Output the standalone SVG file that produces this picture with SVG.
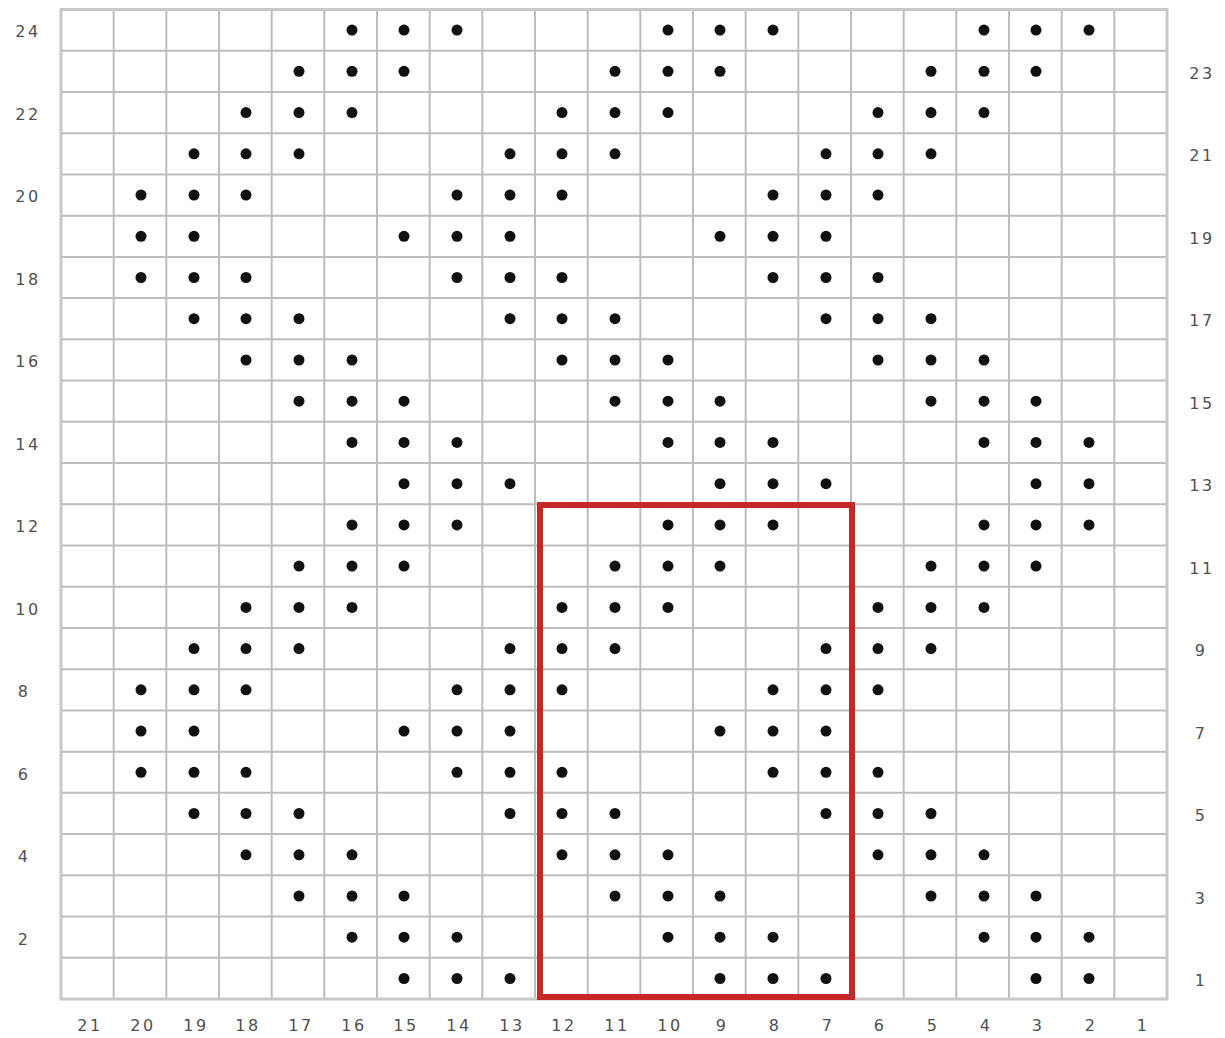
<svg xmlns="http://www.w3.org/2000/svg" xmlns:xlink="http://www.w3.org/1999/xlink" width="1225" height="1038" viewBox="0 0 1225 1038">
<style>
.grid{fill:none;stroke:#bdbdbd;stroke-width:2}
.border{fill:none;stroke:#c8c8c8;stroke-width:3}
.lbl{font-family:"DejaVu Sans","Liberation Sans",sans-serif;font-size:16px;letter-spacing:2.5px;fill:#505050;text-anchor:middle}
.hl{fill:none;stroke:#c62828;stroke-width:6}
</style>
<defs>
<circle id="d" cx="0" cy="0" r="5.5" fill="#111"/>
<g id="rA"><use href="#d" x="352"/><use href="#d" x="404"/><use href="#d" x="457"/><use href="#d" x="668"/><use href="#d" x="720"/><use href="#d" x="773"/><use href="#d" x="984"/><use href="#d" x="1036"/><use href="#d" x="1089"/></g>
<g id="rB"><use href="#d" x="299"/><use href="#d" x="352"/><use href="#d" x="404"/><use href="#d" x="615"/><use href="#d" x="668"/><use href="#d" x="720"/><use href="#d" x="931"/><use href="#d" x="984"/><use href="#d" x="1036"/></g>
<g id="rC"><use href="#d" x="246"/><use href="#d" x="299"/><use href="#d" x="352"/><use href="#d" x="562"/><use href="#d" x="615"/><use href="#d" x="668"/><use href="#d" x="878"/><use href="#d" x="931"/><use href="#d" x="984"/></g>
<g id="rD"><use href="#d" x="194"/><use href="#d" x="246"/><use href="#d" x="299"/><use href="#d" x="510"/><use href="#d" x="562"/><use href="#d" x="615"/><use href="#d" x="826"/><use href="#d" x="878"/><use href="#d" x="931"/></g>
<g id="rE"><use href="#d" x="141"/><use href="#d" x="194"/><use href="#d" x="246"/><use href="#d" x="457"/><use href="#d" x="510"/><use href="#d" x="562"/><use href="#d" x="773"/><use href="#d" x="826"/><use href="#d" x="878"/></g>
<g id="rF"><use href="#d" x="141"/><use href="#d" x="194"/><use href="#d" x="404"/><use href="#d" x="457"/><use href="#d" x="510"/><use href="#d" x="720"/><use href="#d" x="773"/><use href="#d" x="826"/></g>
<g id="rG"><use href="#d" x="404"/><use href="#d" x="457"/><use href="#d" x="510"/><use href="#d" x="720"/><use href="#d" x="773"/><use href="#d" x="826"/><use href="#d" x="1036"/><use href="#d" x="1089"/></g>
</defs>
<rect width="1225" height="1038" fill="#fff"/>
<g id="grid">
<path class="grid" d="M113.67 9.5V999M166.33 9.5V999M219 9.5V999M271.67 9.5V999M324.33 9.5V999M377 9.5V999M429.67 9.5V999M482.33 9.5V999M535 9.5V999M587.67 9.5V999M640.33 9.5V999M693 9.5V999M745.67 9.5V999M798.33 9.5V999M851 9.5V999M903.67 9.5V999M956.33 9.5V999M1009 9.5V999M1061.67 9.5V999M1114.33 9.5V999"/>
<path class="grid" d="M61 50.73H1167M61 91.96H1167M61 133.19H1167M61 174.42H1167M61 215.65H1167M61 256.88H1167M61 298.11H1167M61 339.34H1167M61 380.57H1167M61 421.8H1167M61 463.03H1167M61 504.26H1167M61 545.49H1167M61 586.72H1167M61 627.95H1167M61 669.18H1167M61 710.41H1167M61 751.64H1167M61 792.87H1167M61 834.1H1167M61 875.33H1167M61 916.56H1167M61 957.79H1167"/>
<rect class="border" x="61" y="9.5" width="1106" height="989.5"/>
</g>
<g id="stitches">
<use href="#rA" y="30.1"/>
<use href="#rB" y="71.3"/>
<use href="#rC" y="112.6"/>
<use href="#rD" y="153.8"/>
<use href="#rE" y="195.0"/>
<use href="#rF" y="236.3"/>
<use href="#rE" y="277.5"/>
<use href="#rD" y="318.7"/>
<use href="#rC" y="360.0"/>
<use href="#rB" y="401.2"/>
<use href="#rA" y="442.4"/>
<use href="#rG" y="483.7"/>
<use href="#rA" y="524.9"/>
<use href="#rB" y="566.1"/>
<use href="#rC" y="607.4"/>
<use href="#rD" y="648.6"/>
<use href="#rE" y="689.8"/>
<use href="#rF" y="731.1"/>
<use href="#rE" y="772.3"/>
<use href="#rD" y="813.5"/>
<use href="#rC" y="854.8"/>
<use href="#rB" y="896.0"/>
<use href="#rA" y="937.2"/>
<use href="#rG" y="978.5"/>
</g>
<g id="highlight">
<rect class="hl" x="540" y="505" width="312" height="492"/>
</g>
<g id="row-labels">
<text class="lbl" x="28" y="37">24</text>
<text class="lbl" x="28" y="119.5">22</text>
<text class="lbl" x="28" y="202">20</text>
<text class="lbl" x="28" y="284.5">18</text>
<text class="lbl" x="28" y="367">16</text>
<text class="lbl" x="28" y="449.5">14</text>
<text class="lbl" x="28" y="532">12</text>
<text class="lbl" x="28" y="614.5">10</text>
<text class="lbl" x="24" y="697">8</text>
<text class="lbl" x="24" y="779.5">6</text>
<text class="lbl" x="24" y="862">4</text>
<text class="lbl" x="24" y="944.5">2</text>
<text class="lbl" x="1202" y="78.5">23</text>
<text class="lbl" x="1202" y="161">21</text>
<text class="lbl" x="1202" y="243.5">19</text>
<text class="lbl" x="1202" y="326">17</text>
<text class="lbl" x="1202" y="408.5">15</text>
<text class="lbl" x="1202" y="491">13</text>
<text class="lbl" x="1202" y="573.5">11</text>
<text class="lbl" x="1201" y="656">9</text>
<text class="lbl" x="1201" y="738.5">7</text>
<text class="lbl" x="1201" y="821">5</text>
<text class="lbl" x="1201" y="903.5">3</text>
<text class="lbl" x="1201" y="986">1</text>
</g>
<g id="col-labels">
<text class="lbl" x="90" y="1031">21</text>
<text class="lbl" x="143" y="1031">20</text>
<text class="lbl" x="196" y="1031">19</text>
<text class="lbl" x="248" y="1031">18</text>
<text class="lbl" x="301" y="1031">17</text>
<text class="lbl" x="354" y="1031">16</text>
<text class="lbl" x="406" y="1031">15</text>
<text class="lbl" x="459" y="1031">14</text>
<text class="lbl" x="512" y="1031">13</text>
<text class="lbl" x="564" y="1031">12</text>
<text class="lbl" x="617" y="1031">11</text>
<text class="lbl" x="670" y="1031">10</text>
<text class="lbl" x="722" y="1031">9</text>
<text class="lbl" x="775" y="1031">8</text>
<text class="lbl" x="828" y="1031">7</text>
<text class="lbl" x="880" y="1031">6</text>
<text class="lbl" x="933" y="1031">5</text>
<text class="lbl" x="986" y="1031">4</text>
<text class="lbl" x="1038" y="1031">3</text>
<text class="lbl" x="1091" y="1031">2</text>
<text class="lbl" x="1143" y="1031">1</text>
</g>
</svg>
